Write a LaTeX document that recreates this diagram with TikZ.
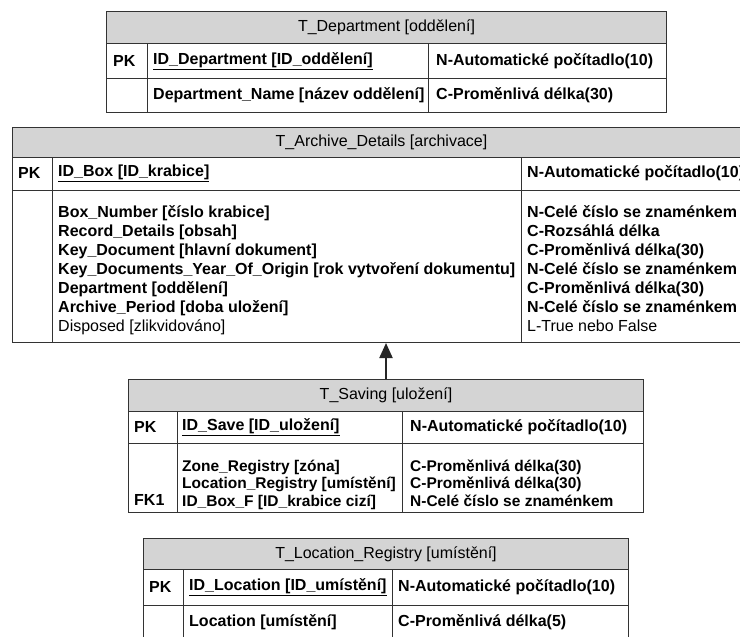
\documentclass[tikz,border=0pt]{standalone}
\usepackage{fontspec}
\setmainfont{Liberation Sans}
\usetikzlibrary{arrows.meta,positioning}
\tikzset{
  grid/.style={draw=black!80, line width=1pt},
  frame/.style={draw=black!80, line width=1pt, anchor=north west, inner sep=0pt},
  hdr/.style={frame, fill=black!17, font=\fontsize{16}{19}\selectfont},
  cell/.style={anchor=west, inner sep=0pt, font=\bfseries\fontsize{16}{19}\selectfont},
  lines/.style={anchor=north west, inner sep=0pt, align=left, font=\bfseries\fontsize{16}{19}\selectfont},
  fk/.style={-{Triangle[length=15pt,width=13pt]}, line width=2pt, draw=black!85}
}
\begin{document}
\begin{tikzpicture}[x=1pt, y=-1pt]
  \useasboundingbox (0,0) rectangle (740,637);

  % T_Department
  \node[frame, minimum width=560pt, minimum height=101pt] (dep) at (106,11) {};
  \node[hdr, minimum width=560pt, minimum height=32pt] (dep-h) at (106,11) {T\_Department [oddělení]};
  \draw[grid] (106,78) -- (666,78);
  \draw[grid] (147,43) -- (147,112);
  \draw[grid] (428,43) -- (428,112);
  \node[cell] (dep-pk) at (113,61) {PK};
  \node[cell] (dep-id) at (153,61) {\underline{ID\_Department [ID\_oddělení]}};
  \node[cell] (dep-idt) at (436,61) {N-Automatické počítadlo(10)};
  \node[cell] (dep-nm) at (153,95) {Department\_Name [název oddělení]};
  \node[cell] (dep-nmt) at (436,95) {C-Proměnlivá délka(30)};

  % T_Archive_Details
  \node[frame, minimum width=738pt, minimum height=215pt] (arch) at (12,127) {};
  \node[hdr, minimum width=738pt, minimum height=30pt] (arch-h) at (12,127) {T\_Archive\_Details [archivace]};
  \draw[grid] (12,190) -- (750,190);
  \draw[grid] (52,157) -- (52,342);
  \draw[grid] (521,157) -- (521,342);
  \node[cell] (arch-pk) at (18,173) {PK};
  \node[cell] (arch-id) at (58,173) {\underline{ID\_Box [ID\_krabice]}};
  \node[cell] (arch-idt) at (527,173) {N-Automatické počítadlo(10)};
  \node[lines] (arch-f) at (58,204) {\strut Box\_Number [číslo krabice]\\
    Record\_Details [obsah]\\
    Key\_Document [hlavní dokument]\\
    Key\_Documents\_Year\_Of\_Origin [rok vytvoření dokumentu]\\
    Department [oddělení]\\
    Archive\_Period [doba uložení]\\
    {\mdseries Disposed [zlikvidováno]}};
  \node[lines] (arch-ft) at (527,204) {\strut N-Celé číslo se znaménkem\\
    C-Rozsáhlá délka\\
    C-Proměnlivá délka(30)\\
    N-Celé číslo se znaménkem\\
    C-Proměnlivá délka(30)\\
    N-Celé číslo se znaménkem\\
    {\mdseries L-True nebo False}};

  % T_Saving
  \node[frame, minimum width=515pt, minimum height=133pt] (sav) at (128,379) {};
  \node[hdr, minimum width=515pt, minimum height=32pt] (sav-h) at (128,379) {T\_Saving [uložení]};
  \draw[grid] (128,443) -- (643,443);
  \draw[grid] (177,411) -- (177,512);
  \draw[grid] (402,411) -- (402,512);
  \node[cell] (sav-pk) at (134,427) {PK};
  \node[cell] (sav-id) at (182,427) {\underline{ID\_Save [ID\_uložení]}};
  \node[cell] (sav-idt) at (410,427) {N-Automatické počítadlo(10)};
  \node[cell] (sav-fk) at (134,500) {FK1};
  \node[lines, font=\bfseries\fontsize{15.5}{17.5}\selectfont] (sav-f) at (182,459) {\strut Zone\_Registry [zóna]\\
    Location\_Registry [umístění]\\
    ID\_Box\_F [ID\_krabice cizí]};
  \node[lines, font=\bfseries\fontsize{15.5}{17.5}\selectfont] (sav-ft) at (410,459) {\strut C-Proměnlivá délka(30)\\
    C-Proměnlivá délka(30)\\
    N-Celé číslo se znaménkem};

  % T_Location_Registry
  \node[frame, minimum width=485pt, minimum height=101pt] (loc) at (143,538) {};
  \node[hdr, minimum width=485pt, minimum height=31pt] (loc-h) at (143,538) {T\_Location\_Registry [umístění]};
  \draw[grid] (143,605) -- (628,605);
  \draw[grid] (183,569) -- (183,639);
  \draw[grid] (392,569) -- (392,639);
  \node[cell] (loc-pk) at (149,587) {PK};
  \node[cell] (loc-id) at (189,587) {\underline{ID\_Location [ID\_umístění]}};
  \node[cell] (loc-idt) at (398,587) {N-Automatické počítadlo(10)};
  \node[cell] (loc-nm) at (189,622) {Location [umístění]};
  \node[cell] (loc-nmt) at (398,622) {C-Proměnlivá délka(5)};

  % vazba
  \draw[fk] (sav.north) -- (sav.north |- arch.south);
\end{tikzpicture}
\end{document}
